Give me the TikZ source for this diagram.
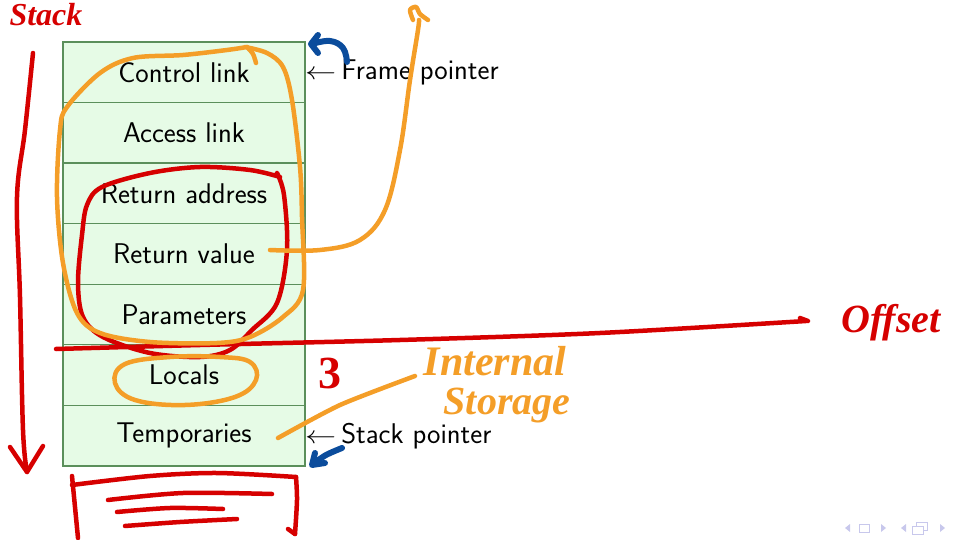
\documentclass[tikz,border=0pt]{standalone}
\usepackage{fontspec}
\newfontfamily\handfont{Liberation Serif}
\definecolor{cellfill}{HTML}{E6FBE6}
\definecolor{cellline}{HTML}{5B8F5B}
\definecolor{inkred}{HTML}{D60000}
\definecolor{inkorange}{HTML}{F49E28}
\definecolor{inkblue}{HTML}{0B4C9C}
\definecolor{navcol}{HTML}{C8C8EC}
\newcommand{\ptrarrow}{\scalebox{1.25}[1]{$\leftarrow$}\hspace{5pt}}
\tikzset{
  cell/.style={draw=cellline, line width=1.3pt, fill=cellfill, minimum width=242pt,
    minimum height=60.57pt, inner sep=0pt, font=\fontsize{28.5}{32}\selectfont\sffamily},
  sidelabel/.style={anchor=west, inner sep=0pt, font=\fontsize{28.5}{32}\selectfont\sffamily},
  redpen/.style={draw=inkred, line width=4.5pt, line cap=round, line join=round},
  orangepen/.style={draw=inkorange, line width=4.5pt, line cap=round, line join=round},
  bluepen/.style={draw=inkblue, line width=6pt, line cap=round, line join=round},
  scrawl/.style={inner sep=0pt, font=\handfont\bfseries\itshape},
  navsym/.style={fill=navcol, draw=none},
}
\begin{document}
\begin{tikzpicture}[x=1pt, y=-1pt]
\useasboundingbox (0,0) rectangle (956,540);

% activation record cells
\node[cell] (ctl)  at (184,72.3)  {Control link};
\node[cell] (acc)  at (184,132.9) {Access link};
\node[cell] (radr) at (184,193.4) {Return address};
\node[cell] (rval) at (184,254.0) {Return value};
\node[cell] (par)  at (184,314.6) {Parameters};
\node[cell] (loc)  at (184,375.1) {Locals};
\node[cell] (tmp)  at (184,435.7) {Temporaries};

\node[sidelabel] (fp) at (305,72.3) {\ptrarrow Frame pointer};
\node[sidelabel] (sp) at (305,435.7) {\ptrarrow Stack pointer};

% red pen: stack direction arrow
\draw[redpen] plot[smooth, tension=0.6] coordinates {(33,53) (25,130) (17,197) (20,297) (23,430) (27,472)};
\draw[redpen] (10,447) -- (27,472) -- (43,446);

% red pen: offset line
\draw[redpen] plot[smooth, tension=0.5] coordinates {(56,349) (200,345) (400,340) (600,333) (806,321)};
\draw[redpen] (800,318) -- (808,321);

% red pen: loop around return address / value / parameters
\draw[redpen] plot[smooth, tension=0.55] coordinates {(280,177) (250,170) (200,167) (150,173) (102,187) (87,205) (82,235) (78,283) (83,317) (103,337) (150,353) (200,357) (230,350) (252,330) (277,303) (287,250) (284,195) (277,173)};

% red pen: the "3" and bracket below the stack
\node[scrawl, text=inkred, font=\handfont\bfseries\fontsize{46}{46}\selectfont] (three) at (330,373) {3};
\draw[redpen] (78,538) -- (72,476);
\draw[redpen] plot[smooth, tension=0.5] coordinates {(72,485) (150,476) (217,473) (296,477)};
\draw[redpen] plot[smooth, tension=0.5] coordinates {(296,477) (297,500) (295,534)};
\draw[redpen] (288,529) -- (295,534);
\draw[redpen] plot[smooth] coordinates {(108,500) (183,493) (272,494)};
\draw[redpen] plot[smooth] coordinates {(117,512) (170,508) (223,509)};
\draw[redpen] plot[smooth] coordinates {(125,526) (180,522) (237,519)};

% orange pen: loop around the upper part of the record
\draw[orangepen] plot[smooth, tension=0.55] coordinates {(245,47) (267,53) (283,67) (292,100) (300,167) (302,217) (303,290) (283,317) (250,337) (217,343) (150,342) (100,333) (77,313) (63,263) (57,197) (60,130) (67,107) (100,73) (133,58) (183,55) (227,50) (247,47)};
\draw[orangepen] plot[smooth] coordinates {(247,47) (253,54) (256,63)};

% orange pen: return value sent upward
\draw[orangepen] plot[smooth, tension=0.6] coordinates {(270,250) (320,250) (360,240) (385,210) (400,150) (410,80) (418,30) (419,20)};
\draw[orangepen] plot[smooth] coordinates {(413,20) (410,10) (416,7) (420,14) (428,20)};

% orange pen: ring round locals and the internal storage note
\draw[orangepen] plot[smooth cycle, tension=0.65] coordinates {(220,357) (250,362) (256,380) (235,397) (185,405) (135,400) (115,383) (125,364) (170,357)};
\draw[orangepen] plot[smooth, tension=0.4] coordinates {(278,438) (340,405) (415,376)};
\node[scrawl, text=inkorange, font=\handfont\bfseries\itshape\fontsize{42}{42}\selectfont] (intl) at (495,361) {Internal};
\node[scrawl, text=inkorange, font=\handfont\bfseries\itshape\fontsize{40}{40}\selectfont] (stor) at (507,406) {Storage};

% red pen: headings
\node[scrawl, text=inkred, font=\handfont\bfseries\itshape\fontsize{32}{32}\selectfont] (stk) at (46,15) {Stack};
\node[scrawl, text=inkred, font=\handfont\bfseries\itshape\fontsize{40}{40}\selectfont] (off) at (891,323) {Offset};

% blue pen: pointer movement
\draw[bluepen] plot[smooth, tension=0.7] coordinates {(347,62) (343,48) (330,41) (312,44)};
\draw[bluepen] (318,35) -- (311,44) -- (318,53);
\draw[bluepen] plot[smooth, tension=0.5] coordinates {(342,448) (326,455) (313,464)};
\draw[bluepen] (315,453) -- (312,465) -- (325,463);

% navigation symbols
\fill[navsym] (850,524) -- (845,528) -- (850,532) -- cycle;
\draw[navcol, line width=1pt] (859,524) rectangle (869,532);
\fill[navsym] (881,524) -- (886,528) -- (881,532) -- cycle;
\fill[navsym] (906,524) -- (901,528) -- (906,532) -- cycle;
\draw[navcol, line width=1pt] (916,522) rectangle (927,530);
\draw[navcol, line width=1pt, fill=white] (912,526) rectangle (923,534);
\fill[navsym] (940,524) -- (945,528) -- (940,532) -- cycle;
\end{tikzpicture}
\end{document}
